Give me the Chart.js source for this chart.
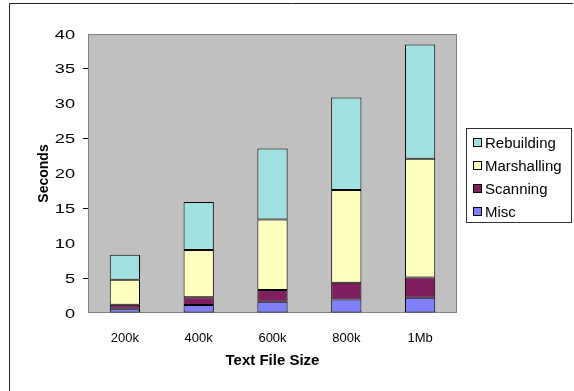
<!DOCTYPE html>
<html>
<head>
<meta charset="utf-8">
<script src="https://cdn.jsdelivr.net/npm/chart.js@4/dist/chart.umd.min.js"></script>
<style>
  html, body { margin: 0; padding: 0; background: #ffffff; }
  #wrap { position: absolute; left: 0; top: 0; width: 574px; height: 391px; }
</style>
</head>
<body>
<div id="wrap"><canvas id="chart" width="574" height="391"></canvas></div>
<script>
// Parse time per stage, by input size (seconds)
const categories  = ['200k', '400k', '600k', '800k', '1Mb'];
const misc        = [0.6, 1.15, 1.6, 1.95, 2.2];
const scanning    = [0.6, 1.1, 1.7, 2.4, 2.9];
const marshalling = [3.55, 6.8, 10.1, 13.3, 17.0];
const rebuilding  = [3.6, 6.85, 10.2, 13.25, 16.4];

const seriesNames  = ['Misc', 'Scanning', 'Marshalling', 'Rebuilding'];
const seriesColors = ['#8080FF', '#801F5F', '#FFFFC0', '#A0E0E0'];
const seriesValues = [misc, scanning, marshalling, rebuilding];

const FONT = '"Liberation Sans", Arial, sans-serif';

// Grey plot area, its frame and the outer chart frame
const backdrop = {
  id: 'backdrop',
  beforeDraw(chart) {
    const { ctx, chartArea: a } = chart;
    ctx.save();
    ctx.strokeStyle = '#222222';
    ctx.lineWidth = 1;
    ctx.beginPath();
    ctx.moveTo(9.5, 391);
    ctx.lineTo(9.5, 3.5);
    ctx.lineTo(573, 3.5);
    ctx.stroke();
    ctx.fillStyle = '#C0C0C0';
    ctx.fillRect(a.left, a.top, a.right - a.left, a.bottom - a.top);
    ctx.strokeStyle = '#808080';
    ctx.strokeRect(a.left + 0.5, a.top + 0.5, a.right - a.left - 1, a.bottom - a.top - 1);
    ctx.restore();
  }
};

// Wide value labels on the y axis
const yLabels = {
  id: 'yLabels',
  afterDraw(chart) {
    const { ctx } = chart;
    const s = chart.scales.y;
    ctx.save();
    ctx.fillStyle = '#000000';
    ctx.font = '13px ' + FONT;
    ctx.textAlign = 'right';
    ctx.textBaseline = 'middle';
    s.ticks.forEach(t => {
      const y = s.getPixelForValue(t.value);
      ctx.save();
      ctx.translate(75, y + 1);
      ctx.scale(1.4, 1);
      ctx.fillText(t.label, 0, 0);
      ctx.restore();
    });
    ctx.restore();
  }
};

// Boxed legend at the right, top series first
const boxLegend = {
  id: 'boxLegend',
  afterDraw(chart) {
    const { ctx } = chart;
    const x0 = 466, y0 = 128, w = 105, h = 94;
    ctx.save();
    ctx.fillStyle = '#ffffff';
    ctx.fillRect(x0, y0, w, h);
    ctx.strokeStyle = '#333333';
    ctx.lineWidth = 1;
    ctx.strokeRect(x0 + 0.5, y0 + 0.5, w, h);
    const sets = chart.data.datasets.slice().reverse();
    ctx.font = '14px ' + FONT;
    ctx.textBaseline = 'middle';
    ctx.textAlign = 'left';
    sets.forEach((ds, i) => {
      const cy = y0 + 15 + i * 23;
      ctx.fillStyle = ds.backgroundColor;
      ctx.fillRect(x0 + 7, cy - 5, 9, 9);
      ctx.strokeStyle = '#000000';
      ctx.strokeRect(x0 + 7.5, cy - 4.5, 8, 8);
      ctx.fillStyle = '#000000';
      ctx.save();
      ctx.translate(x0 + 19, cy + 1);
      ctx.scale(1.07, 1);
      ctx.fillText(ds.label, 0, 0);
      ctx.restore();
    });
    ctx.restore();
  }
};

new Chart(document.getElementById('chart'), {
  type: 'bar',
  data: {
    labels: categories,
    datasets: seriesNames.map((name, i) => ({
      label: name,
      data: seriesValues[i],
      backgroundColor: seriesColors[i],
      borderColor: '#000000',
      borderWidth: 1,
      borderSkipped: false,
      categoryPercentage: 1.0,
      barPercentage: 0.41
    }))
  },
  options: {
    responsive: false,
    animation: false,
    devicePixelRatio: 1,
    layout: { padding: { left: 0, right: 117, top: 34, bottom: 0 } },
    plugins: { legend: { display: false }, tooltip: { enabled: false } },
    scales: {
      x: {
        stacked: true,
        grid: { display: false },
        border: { display: false },
        ticks: { color: '#000000', font: { family: FONT, size: 13 }, padding: 10 },
        title: {
          display: true, text: 'Text File Size', color: '#000000',
          font: { family: FONT, size: 15, weight: 'bold' },
          padding: { top: 0, bottom: 21 }
        },
        afterFit(s) { s.height = 78; }
      },
      y: {
        stacked: true,
        min: 0, max: 40,
        ticks: { stepSize: 5, color: 'rgba(0,0,0,0)', font: { family: FONT, size: 13 } },
        grid: {
          drawOnChartArea: false, drawTicks: true, tickLength: 5, tickWidth: 1,
          tickColor: c => (c.tick && c.tick.value % 10 === 5) ? '#000000' : 'rgba(0,0,0,0)'
        },
        border: { display: false },
        title: {
          display: true, text: 'Seconds', color: '#000000',
          font: { family: FONT, size: 14, weight: 'bold' },
          padding: { top: 36, bottom: 0 }
        },
        afterFit(s) { s.width = 88; }
      }
    }
  },
  plugins: [backdrop, yLabels, boxLegend]
});
</script>
</body>
</html>
